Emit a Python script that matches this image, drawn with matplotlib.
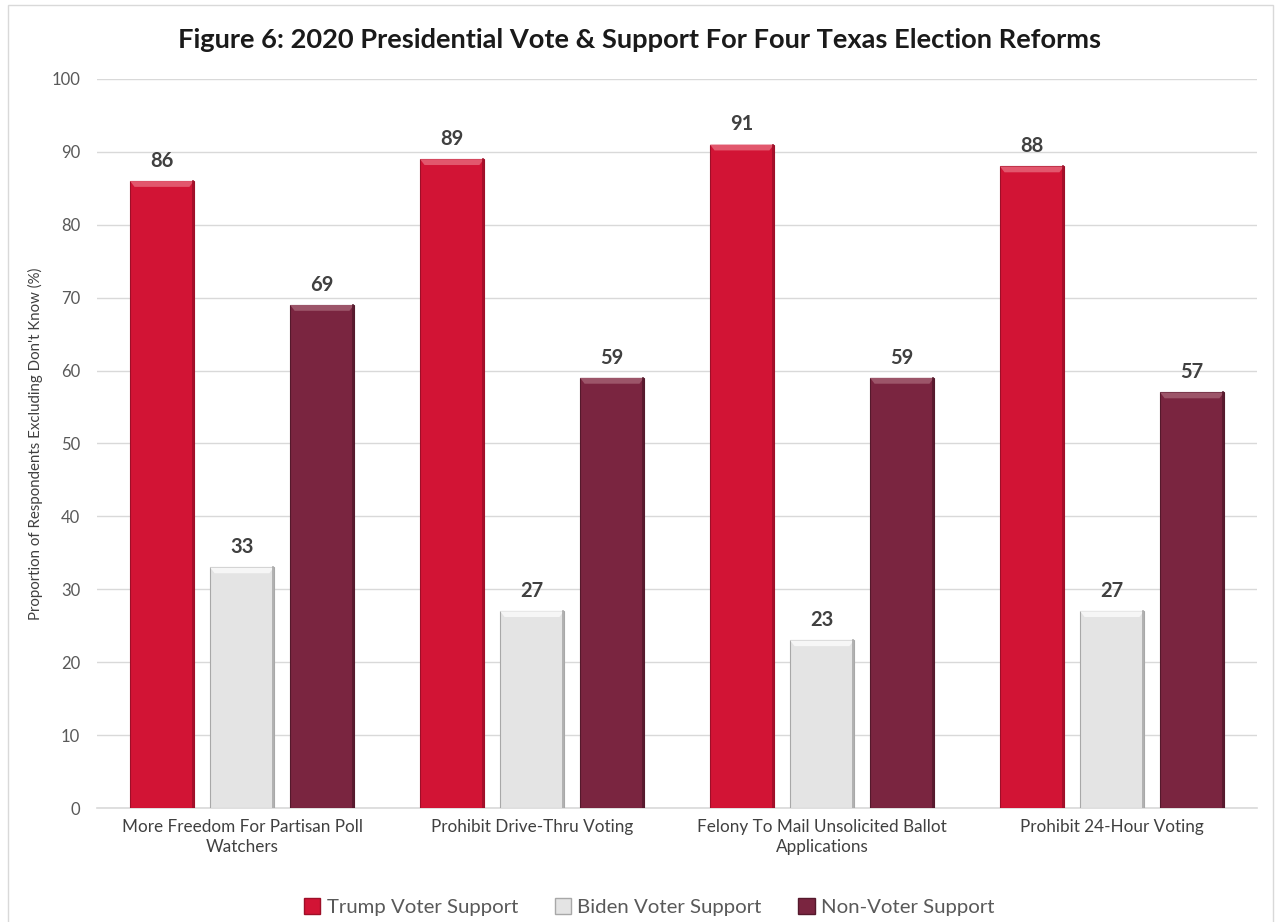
import numpy as np
import matplotlib
matplotlib.use("Agg")
import matplotlib.pyplot as plt
from matplotlib.patches import Rectangle, Polygon

plt.rcParams['font.family'] = ['Lato', 'DejaVu Sans']

reforms = ["More Freedom For Partisan Poll\nWatchers", "Prohibit Drive-Thru Voting",
           "Felony To Mail Unsolicited Ballot\nApplications", "Prohibit 24-Hour Voting"]
series = ["Trump Voter Support", "Biden Voter Support", "Non-Voter Support"]
trump = [86, 89, 91, 88]
biden = [33, 27, 23, 27]
nonvoter = [69, 59, 59, 57]
yticks = list(range(0, 101, 10))

colors = ["#D21435", "#E4E4E4", "#7A2540"]
edges = ["#9E0F28", "#A8A8A8", "#55192C"]
tops = ["#E2576D", "#F6F6F6", "#9C5569"]

fig = plt.figure(figsize=(12.78, 9.22), dpi=100)
ax = fig.add_axes([97 / 1278, 1 - 808 / 922, (1257 - 97) / 1278, (808 - 79) / 922])

x = np.arange(len(reforms))
step = 0.276
width = 0.22
for i, (vals, c, ec, tc) in enumerate(zip([trump, biden, nonvoter], colors, edges, tops)):
    pos = x + (i - 1) * step
    bars = ax.bar(pos, vals, width, color=c, edgecolor=ec, linewidth=0.8,
                  label=series[i], zorder=3)
    for b, v in zip(bars, vals):
        # bevelled top edge
        x0, w = b.get_x(), b.get_width()
        bev = 0.8
        dx = w * 0.07
        ax.add_patch(Polygon([(x0, v), (x0 + w, v), (x0 + w - dx, v - bev), (x0 + dx, v - bev)],
                             closed=True, facecolor=tc, edgecolor='none', zorder=4))
        ax.plot([x0 + w - 0.004, x0 + w - 0.004], [0, v], color=ec, lw=1.2, zorder=4)
        ax.text(b.get_x() + w / 2, v + 1.4, str(v), ha='center', va='bottom',
                fontsize=14.5, fontweight='bold', color='#404040', zorder=5)

ax.set_xlim(-0.5, 3.5)
ax.set_ylim(0, 100)
ax.set_yticks(yticks)
ax.set_xticks(x)
ax.set_xticklabels(reforms, fontsize=12.3, color='#404040', linespacing=1.3)
ax.tick_params(axis='y', labelsize=12, colors='#595959', length=0, pad=12)
ax.tick_params(axis='x', length=0, pad=8)
ax.yaxis.grid(True, color='#D9D9D9', linewidth=1.0, zorder=0)
for s in ['top', 'right', 'left']:
    ax.spines[s].set_visible(False)
ax.spines['bottom'].set_color('#D9D9D9')
ax.spines['bottom'].set_linewidth(1.2)
ax.set_ylabel("Proportion of Respondents Excluding Don't Know (%)", fontsize=10.8,
              color='#404040', labelpad=6)

fig.text(0.5, 1 - 40 / 922, "Figure 6: 2020 Presidential Vote & Support For Four Texas Election Reforms",
         ha='center', va='center', fontsize=19.6, fontweight='bold', color='#1a1a1a')

handles = [Rectangle((0, 0), 1, 1, facecolor=c, edgecolor=ec) for c, ec in zip(colors, edges)]
fig.legend(handles, series, loc='center', bbox_to_anchor=(0.508, 1 - 907 / 922), ncol=3,
           frameon=False, fontsize=14.7, labelcolor='#595959', handlelength=0.8,
           handleheight=0.8, handletextpad=0.3, columnspacing=1.8)

fig.add_artist(Rectangle((8 / 1278, -0.01), (1273 - 8) / 1278, 1 - 5 / 922 + 0.01,
                         transform=fig.transFigure, fill=False, edgecolor='#D9D9D9', lw=1.0))

fig.savefig("out.png", dpi=100)
